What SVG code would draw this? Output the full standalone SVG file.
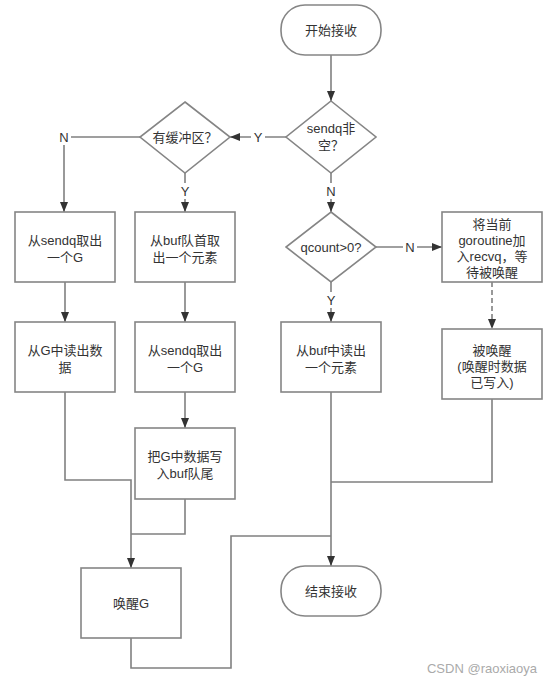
<svg xmlns="http://www.w3.org/2000/svg" width="551" height="685" viewBox="0 0 551 685">
<style>
.n{fill:#fff;stroke:#858585;stroke-width:1.6}
.c{fill:none;stroke:#808080;stroke-width:1.6}
.t{font-family:"Liberation Sans","Noto Sans CJK SC",sans-serif;font-size:13px;fill:#333;text-anchor:middle}
.l{font-family:"Liberation Sans","Noto Sans CJK SC",sans-serif;font-size:13px;fill:#333;text-anchor:middle}
.lb{fill:#fff}
</style>
<defs>
<marker id="a" viewBox="0 0 10 8" refX="10" refY="4" markerWidth="10" markerHeight="8" markerUnits="userSpaceOnUse" orient="auto">
<path d="M0,0 L10,4 L0,8 z" fill="#333"/>
</marker>
</defs>
<rect width="551" height="685" fill="#fff"/>
<g id="connectors">
<path class="c" d="M331,55 V101" marker-end="url(#a)"/>
<path class="c" d="M286,137 H230" marker-end="url(#a)"/>
<path class="c" d="M140,137 H64 V212" marker-end="url(#a)"/>
<path class="c" d="M185,173 V212" marker-end="url(#a)"/>
<path class="c" d="M331,173 V212" marker-end="url(#a)"/>
<path class="c" d="M376,247 H442" marker-end="url(#a)"/>
<path class="c" d="M331,282 V322" marker-end="url(#a)"/>
<path class="c" d="M492,282 V329" stroke-dasharray="5,3" marker-end="url(#a)"/>
<path class="c" d="M65,282 V322" marker-end="url(#a)"/>
<path class="c" d="M185,282 V322" marker-end="url(#a)"/>
<path class="c" d="M185,392 V428" marker-end="url(#a)"/>
<path class="c" d="M65,392 V480 H131 V568" marker-end="url(#a)"/>
<path class="c" d="M185,499 V534 H131" stroke="#555" stroke-width="1.2"/>
<path class="c" d="M131,638 V668 H231 V536 H331"/>
<path class="c" d="M331,392 V566" marker-end="url(#a)"/>
<path class="c" d="M492,399 V482 H331"/>
<rect class="lb" x="251" y="129" width="14" height="16"/>
<text class="l" x="258" y="142">Y</text>
<rect class="lb" x="57" y="129" width="14" height="16"/>
<text class="l" x="64" y="142">N</text>
<rect class="lb" x="178" y="183" width="14" height="16"/>
<text class="l" x="185" y="196">Y</text>
<rect class="lb" x="324" y="183" width="14" height="16"/>
<text class="l" x="331" y="196">N</text>
<rect class="lb" x="403" y="239" width="14" height="16"/>
<text class="l" x="410" y="252">N</text>
<rect class="lb" x="324" y="292" width="14" height="16"/>
<text class="l" x="331" y="305">Y</text>
</g>
<g id="start">
<rect class="n" x="281" y="5" width="100" height="50" rx="24"/>
<text class="t" x="331" y="35">开始接收</text>
</g>
<g id="sendq">
<path class="n" d="M331,101 L376,137 L331,173 L286,137 z"/>
<text class="t" x="331" y="133">sendq非</text>
<text class="t" x="331" y="150">空？</text>
</g>
<g id="hasbuf">
<path class="n" d="M185,102 L230,137 L185,173 L140,137 z"/>
<text class="t" x="185" y="142">有缓冲区？</text>
</g>
<g id="qcount">
<path class="n" d="M331,212 L376,247 L331,282 L286,247 z"/>
<text class="t" x="331" y="252">qcount&gt;0?</text>
</g>
<g id="box1">
<rect class="n" x="15" y="212" width="100" height="70"/>
<text class="t" x="65" y="245">从sendq取出</text>
<text class="t" x="65" y="262">一个G</text>
</g>
<g id="box2">
<rect class="n" x="135" y="212" width="100" height="70"/>
<text class="t" x="185" y="245">从buf队首取</text>
<text class="t" x="185" y="262">出一个元素</text>
</g>
<g id="box3">
<rect class="n" x="15" y="322" width="100" height="70"/>
<text class="t" x="65" y="355">从G中读出数</text>
<text class="t" x="65" y="372">据</text>
</g>
<g id="box4">
<rect class="n" x="135" y="322" width="100" height="70"/>
<text class="t" x="185" y="355">从sendq取出</text>
<text class="t" x="185" y="372">一个G</text>
</g>
<g id="box5">
<rect class="n" x="135" y="428" width="100" height="71"/>
<text class="t" x="185" y="461">把G中数据写</text>
<text class="t" x="185" y="478">入buf队尾</text>
</g>
<g id="wake">
<rect class="n" x="81" y="568" width="100" height="70"/>
<text class="t" x="131" y="608">唤醒G</text>
</g>
<g id="end">
<rect class="n" x="281" y="566" width="100" height="50" rx="24"/>
<text class="t" x="331" y="596">结束接收</text>
</g>
<g id="readbuf">
<rect class="n" x="281" y="322" width="100" height="70"/>
<text class="t" x="331" y="355">从buf中读出</text>
<text class="t" x="331" y="372">一个元素</text>
</g>
<g id="enqueue">
<rect class="n" x="442" y="212" width="100" height="70"/>
<text class="t" x="492" y="229">将当前</text>
<text class="t" x="492" y="245">goroutine加</text>
<text class="t" x="492" y="261">入recvq，等</text>
<text class="t" x="492" y="277">待被唤醒</text>
</g>
<g id="woken">
<rect class="n" x="442" y="329" width="100" height="70"/>
<text class="t" x="492" y="355">被唤醒</text>
<text class="t" x="492" y="371">(唤醒时数据</text>
<text class="t" x="492" y="387">已写入)</text>
</g>
<text x="537" y="673" font-family="Liberation Sans, Arial, sans-serif" font-size="13" fill="#aaa" text-anchor="end">CSDN @raoxiaoya</text>
</svg>
